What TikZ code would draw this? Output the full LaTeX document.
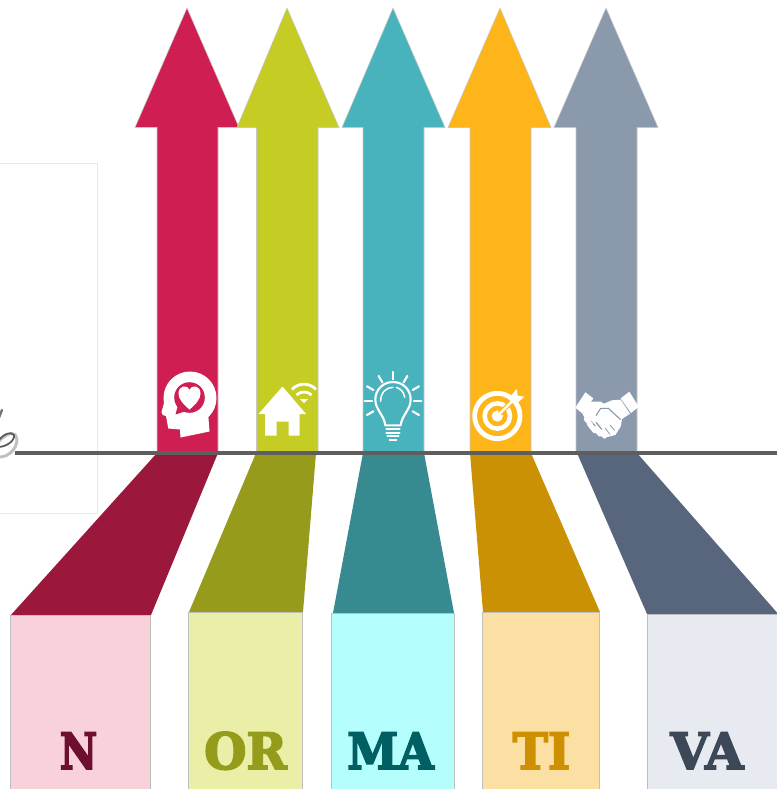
\documentclass[tikz,border=0pt]{standalone}
\usepackage{fontspec}
\setmainfont{DejaVu Serif}[BoldFeatures={FakeBold=3.5}]
\definecolor{redA}{HTML}{CF1F52}\definecolor{redS}{HTML}{9B173C}\definecolor{redB}{HTML}{F8D1DA}\definecolor{redT}{HTML}{6E0F2F}
\definecolor{oliA}{HTML}{C5CC24}\definecolor{oliS}{HTML}{969B1C}\definecolor{oliB}{HTML}{EBEEA6}\definecolor{oliT}{HTML}{959B1A}
\definecolor{teaA}{HTML}{49B3BD}\definecolor{teaS}{HTML}{368A90}\definecolor{teaB}{HTML}{B5FEFE}\definecolor{teaT}{HTML}{005F63}
\definecolor{yelA}{HTML}{FDB51A}\definecolor{yelS}{HTML}{CB9104}\definecolor{yelB}{HTML}{FCE0A3}\definecolor{yelT}{HTML}{CC9000}
\definecolor{gryA}{HTML}{8A99AC}\definecolor{gryS}{HTML}{57667C}\definecolor{gryB}{HTML}{E7EAF0}\definecolor{gryT}{HTML}{3C4858}
\tikzset{
  arrowshape/.style={draw=black!22,line width=0.4pt},
  basebox/.style={draw=black!25,line width=0.6pt},
  letters/.style={anchor=base,inner sep=0pt,transform shape,font=\fontsize{37.5}{38}\selectfont\bfseries},
  iconline/.style={draw=white,line width=1.6pt,line cap=round,line join=round},
  zoomed/.style={x=0.25pt,y=-0.25pt}
}
\begin{document}
\begin{tikzpicture}[x=0.75pt,y=-0.75pt]
\useasboundingbox (0,0) rectangle (777,789);
\fill[white] (0,0) rectangle (777,789);
% faint panel
\draw[black!9,line width=0.6pt] (-2,163.5) -- (97.5,163.5) -- (97.5,513.5) -- (-2,513.5);
% skewed shadows
\fill[redS] (157,453) -- (218,453) -- (151,615) -- (10,616) -- cycle;
\fill[oliS] (256,453) -- (316,453) -- (303,612) -- (189,612) -- cycle;
\fill[teaS] (363,453) -- (424,453) -- (454,613) -- (333,613) -- cycle;
\fill[yelS] (470,453) -- (531,453) -- (600,612) -- (483,612) -- cycle;
\fill[gryS] (577,453) -- (637,453) -- (780,616) -- (647,614) -- cycle;
% boxes
\draw[basebox,fill=redB] (10.5,615.5) rectangle (150.5,792);
\draw[basebox,fill=oliB] (188.5,612.5) rectangle (302.5,792);
\draw[basebox,fill=teaB] (331.5,613) rectangle (454,792);
\draw[basebox,fill=yelB] (482.5,612.5) rectangle (599.5,792);
\draw[basebox,fill=gryB] (647.5,614.5) rectangle (782,792);
% arrows
\draw[arrowshape,fill=redA] (187,8) -- (239,127.5) -- (218,127.5) -- (218,453) -- (157,453) -- (157,127.5) -- (135,127.5) -- cycle;
\draw[arrowshape,fill=oliA] (287,8) -- (339,127.5) -- (318,127.5) -- (318,453) -- (256.5,453) -- (256.5,127.5) -- (237,127.5) -- cycle;
\draw[arrowshape,fill=teaA] (393,8) -- (445,127.5) -- (424,127.5) -- (424,453) -- (363,453) -- (363,127.5) -- (342,127.5) -- cycle;
\draw[arrowshape,fill=yelA] (500,8) -- (551,127.5) -- (531,127.5) -- (531,453) -- (470,453) -- (470,127.5) -- (448,127.5) -- cycle;
\draw[arrowshape,fill=gryA] (606,8) -- (658,127.5) -- (637,127.5) -- (637,453) -- (576,453) -- (576,127.5) -- (554,127.5) -- cycle;
% swirl remnant at the left edge
\draw[black!25,line width=2.2pt,line cap=round] (-2,457) .. controls (10,458) and (20,445) .. (16,436) .. controls (12,430) and (4,436) .. (-2,442);
\draw[black!65,line width=1.3pt,line cap=round] (-2,447) .. controls (6,447) and (15,441) .. (14,435) .. controls (10,431) and (4,434) .. (-2,441);
\draw[black!55,line width=1.8pt,line cap=round] (-2,420) -- (2,410);
% horizon
\draw[black!63,line width=2.4pt] (15,453) -- (777,453);
% head icon
\fill[white] (190,398) circle (26.5);
\fill[white] (170,382) -- (161.5,412) .. controls (161,415) and (164,416) .. (166,416) -- (168.3,428.5) -- (180,429.5) -- (180.5,437.5) -- (209.5,431.5) -- (208,412) -- cycle;
\fill[redA] (189.5,397.5) circle (15.3);
\fill[redA] (178,405) -- (175.5,414.5) -- (186,411) -- cycle;
\fill[white] (189.5,409.5) .. controls (183,404) and (178.5,399) .. (178.5,393.5) .. controls (178.5,385.5) and (187,384) .. (189.5,390) .. controls (192,384) and (200.5,385.5) .. (200.5,393.5) .. controls (200.5,399) and (196,404) .. (189.5,409.5) -- cycle;
% house icon
\fill[white] (282.5,386.5) -- (306,414) -- (299.5,414) -- (299.5,435.5) -- (288.5,435.5) -- (288.5,421.5) -- (276.5,421.5) -- (276.5,435.5) -- (265,435.5) -- (265,414) -- (258.5,414) -- cycle;
\draw[white,line width=2.1pt] (292,389.5) .. controls (298,382.5) and (310,382.5) .. (316,389.5);
\draw[white,line width=2.1pt] (296.5,395) .. controls (300,391) and (308,391) .. (311.5,395);
\fill[white] (300,399) -- (308,399) -- (304,403) -- cycle;
% bulb icon
\begin{scope}[shift={(358,368)},zoomed]
 \draw[iconline] (82,172) .. controls (78,140) and (52,125) .. (52,95) .. controls (52,65) and (75,42) .. (105,42) .. controls (135,42) and (158,65) .. (158,95) .. controls (158,125) and (132,140) .. (128,172) -- cycle;
 \draw[iconline,line width=1.1pt] (68,100) .. controls (68,75) and (80,60) .. (105,58);
 \draw[iconline,line width=1.1pt] (140,88) .. controls (138,72) and (128,62) .. (115,58);
 \draw[iconline] (85,183) -- (125,183) (85,194) -- (125,194) (88,205) -- (122,205);
 \draw[iconline] (95,215) -- (115,215);
 \draw[iconline] (105,12) -- (105,34);
 \draw[iconline] (62,24) -- (73,43);
 \draw[iconline] (148,24) -- (137,43);
 \draw[iconline] (27,55) -- (46,66);
 \draw[iconline] (183,55) -- (164,66);
 \draw[iconline] (20,98) -- (42,98);
 \draw[iconline] (190,98) -- (168,98);
 \draw[iconline] (27,141) -- (46,130);
 \draw[iconline] (183,141) -- (164,130);
\end{scope}
% target icon
\begin{scope}[shift={(465,385)},zoomed]
 \draw[white,line width=3.6pt] (97,93) circle (68);
 \draw[white,line width=3.4pt] (97,93) circle (38);
 \fill[white] (97,93) circle (17);
 \draw[yelA,line width=3.6pt] (104,86) -- (148,42);
 \draw[white,line width=1.8pt] (100,90) -- (145,45);
 \fill[white] (130,42) -- (155,12) -- (158,32) -- (178,35) -- (150,60) -- cycle;
\end{scope}
% handshake icon
\begin{scope}[shift={(570,385)},zoomed]
 \fill[white] (16,68) -- (46,22) -- (70,40) -- (38,86) -- cycle;
 \fill[white] (152,40) -- (178,20) -- (206,65) -- (183,84) -- cycle;
 \fill[white] (56,50) -- (92,50) -- (102,56) -- (125,46) -- (152,44) -- (180,86) -- (156,102) -- (152,125) -- (136,150) -- (112,156) -- (92,142) -- (60,122) -- (38,88) -- cycle;
 \draw[gryA,line width=0.8pt,line join=round] (78,92) -- (92,70) -- (115,70) -- (152,104);
 \draw[gryA,line width=0.6pt] (120,120) -- (134,136) (106,130) -- (120,148);
 \draw[gryA,line width=0.9pt] (62,108) -- (76,124) (78,112) -- (96,134);
 \draw[white,line width=3.4pt,line cap=round] (48,102) -- (62,118) (58,118) -- (74,138) (74,130) -- (90,148) (92,140) -- (104,154);
\end{scope}
% letters
\node[letters,text=redT,xscale=0.82] (tN) at (78.5,769) {N};
\node[letters,text=oliT,xscale=0.97] (tOR) at (245.5,769) {OR};
\node[letters,text=teaT,xscale=0.92] (tMA) at (390.5,769) {MA};
\node[letters,text=yelT,xscale=0.95] (tTI) at (541.5,769) {TI};
\node[letters,text=gryT,xscale=0.99] (tVA) at (707,769) {VA};
\end{tikzpicture}
\end{document}
